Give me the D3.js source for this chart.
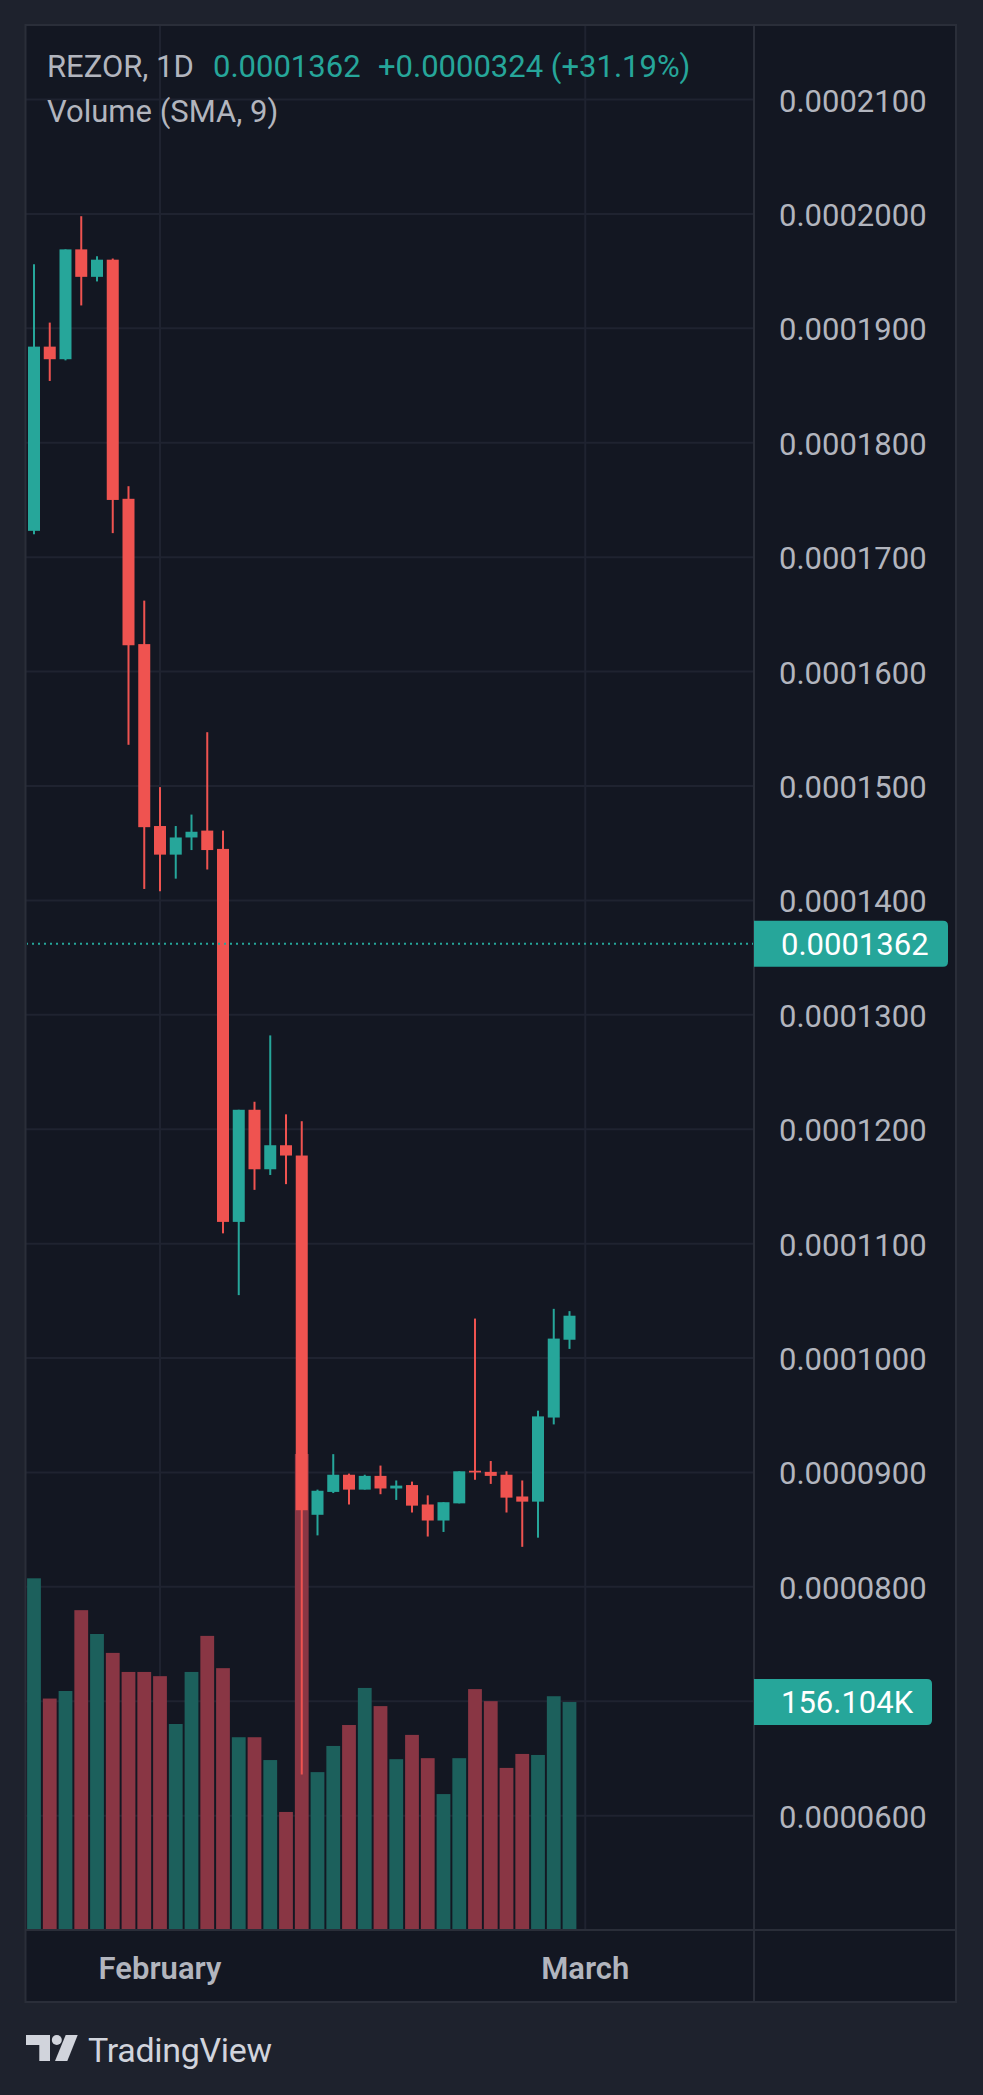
<!DOCTYPE html>
<html>
<head>
<meta charset="utf-8">
<script src="https://cdn.jsdelivr.net/npm/d3@7"></script>
<style>
  html, body { margin: 0; padding: 0; background: #1e222d; }
  svg { display: block; }
  text { font-family: Roboto, "Noto Sans", sans-serif; }
</style>
</head>
<body>
<script>
// prices are in units of 0.0000001
var open  = [1723, 1884, 1873, 1969, 1945, 1960, 1751, 1624, 1465, 1440, 1455, 1461, 1445, 1119, 1217, 1165, 1186, 1177,
             863, 883, 898, 885, 897, 886, 889, 872, 858, 873, 901.5, 900.5, 898, 879, 874.5, 948, 1016];
var high  = [1956, 1905, 1969, 1998, 1963, 1961, 1762, 1662, 1499, 1465, 1475, 1547, 1461, 1217, 1224, 1282, 1213, 1207,
             885, 916, 899, 898, 906, 893, 892, 880, 874, 901, 1034.5, 910, 901, 893, 954, 1043, 1041];
var low   = [1720, 1854, 1872, 1920, 1941, 1721, 1536, 1410, 1408, 1419, 1444, 1427, 1109, 1055, 1147, 1160, 1152, 636,
             845, 882, 872, 885, 881, 876, 865, 844, 848, 873, 893.6, 890, 865, 835, 843, 942, 1008];
var close = [1884, 1873, 1969, 1945, 1960, 1750, 1623, 1464, 1440, 1455, 1460, 1444, 1119, 1217, 1165, 1186, 1177, 867,
             884, 898, 885, 897, 886, 888.5, 871, 858, 874, 901, 900, 897, 878, 874.5, 949, 1017, 1037];
// volume in thousands
var volume = [241.2, 158.5, 163.7, 219.3, 202.9, 189.9, 176.8, 176.8, 173.9, 141.0, 176.8, 201.6, 179.4, 131.9, 131.9,
              116.2, 80.5, 326.7, 107.9, 125.9, 140.3, 165.8, 153.3, 116.8, 133.5, 117.5, 92.8, 117.5, 165.0, 156.7,
              110.8, 120.4, 119.7, 160.1, 156.104];
var priceTicks = [2100, 2000, 1900, 1800, 1700, 1600, 1500, 1400, 1300, 1200, 1100, 1000, 900, 800, 700, 600];
var monthLabels = ["February", "March"];
var monthIndex = [8, 35];
var lastPrice = 1362;
var change = 324;
var changePct = 31.19;
var symbol = "REZOR, 1D";
var studyName = "Volume (SMA, 9)";

var width = 983, height = 2095;
var padL = 26, padR = 754, padT = 25, paneBottom = 1930, frameRight = 956, frameBottom = 2002;
var up = "#26a69a", down = "#ef5350";
var volUp = "#1c605c", volDown = "#893644";
var gridColor = "#1f2330", borderColor = "#2a2e39", textColor = "#b2b5be";

var svg = d3.select("body").append("svg")
    .attr("width", width)
    .attr("height", height);

svg.append("rect").attr("width", width).attr("height", height).attr("fill", "#1e222d");
svg.append("rect")
    .attr("x", padL).attr("y", padT)
    .attr("width", frameRight - padL).attr("height", frameBottom - padT)
    .attr("fill", "#131722");

var x = d3.scaleLinear().domain([0, 35]).range([34, 585.25]);
var y = d3.scaleLinear().domain([600, 2100]).range([1815.7, 99.5]);
var yVol = d3.scaleLinear().domain([0, d3.max(volume)]).range([1929, 1454]);
var fmt = v => (v * 1e-7).toFixed(7);

// grid
var grid = svg.append("g");
grid.selectAll("line.h")
    .data(priceTicks)
    .join("line")
    .attr("class", "h")
    .attr("x1", padL).attr("x2", padR)
    .attr("y1", d => y(d)).attr("y2", d => y(d))
    .attr("stroke", gridColor).attr("stroke-width", 2);
grid.selectAll("line.v")
    .data(monthIndex)
    .join("line")
    .attr("class", "v")
    .attr("x1", d => x(d)).attr("x2", d => x(d))
    .attr("y1", padT).attr("y2", paneBottom)
    .attr("stroke", gridColor).attr("stroke-width", 2);

svg.append("clipPath").attr("id", "pane")
    .append("rect").attr("x", padL + 1).attr("y", padT + 1)
    .attr("width", padR - padL - 1).attr("height", paneBottom - padT - 2);

var pane = svg.append("g").attr("clip-path", "url(#pane)");

// volume
var idx = d3.range(open.length);
pane.append("g").selectAll("rect")
    .data(idx)
    .join("rect")
    .attr("x", i => x(i) - 6.9)
    .attr("width", 13.8)
    .attr("y", i => yVol(volume[i]))
    .attr("height", i => yVol(0) - yVol(volume[i]))
    .attr("fill", i => close[i] >= open[i] ? volUp : volDown);

// candles
var candles = pane.append("g").selectAll("g")
    .data(idx)
    .join("g")
    .attr("fill", i => close[i] >= open[i] ? up : down);
candles.append("rect")
    .attr("x", i => x(i) - 1)
    .attr("width", 2)
    .attr("y", i => y(high[i]))
    .attr("height", i => y(low[i]) - y(high[i]));
candles.append("rect")
    .attr("x", i => x(i) - 6)
    .attr("width", 12)
    .attr("y", i => y(Math.max(open[i], close[i])))
    .attr("height", i => Math.max(1.5, Math.abs(y(open[i]) - y(close[i]))));

// last price line
pane.append("line")
    .attr("x1", padL).attr("x2", padR)
    .attr("y1", y(lastPrice)).attr("y2", y(lastPrice))
    .attr("stroke", up).attr("stroke-width", 2)
    .attr("stroke-dasharray", "2,4");

// separators
svg.append("line")
    .attr("x1", padR).attr("x2", padR).attr("y1", padT).attr("y2", frameBottom)
    .attr("stroke", borderColor).attr("stroke-width", 2);
svg.append("line")
    .attr("x1", padL).attr("x2", frameRight).attr("y1", paneBottom).attr("y2", paneBottom)
    .attr("stroke", borderColor).attr("stroke-width", 2);
svg.append("rect")
    .attr("x", padL - 0.5).attr("y", padT)
    .attr("width", frameRight - padL + 0.5).attr("height", frameBottom - padT)
    .attr("fill", "none").attr("stroke", borderColor).attr("stroke-width", 2);

// price axis, labels hidden under the badges are skipped like the original does
var badgeY = [y(lastPrice), yVol(volume[volume.length - 1])];
svg.append("g").selectAll("text")
    .data(priceTicks.filter(d => badgeY.every(b => Math.abs(y(d) - b) > 40)))
    .join("text")
    .attr("x", 779)
    .attr("y", d => y(d) + 12)
    .attr("font-size", 31)
    .attr("fill", textColor)
    .text(fmt);

// time axis
svg.append("g").selectAll("text")
    .data(monthLabels)
    .join("text")
    .attr("x", (d, i) => x(monthIndex[i]))
    .attr("y", 1979)
    .attr("text-anchor", "middle")
    .attr("font-size", 31)
    .attr("font-weight", 600)
    .attr("fill", textColor)
    .text(d => d);

// badges
function badge(cy, w, label) {
    var r = 5;
    var x0 = padR, x1 = padR + w, y0 = cy - 23, y1 = cy + 23;
    svg.append("path")
        .attr("d", "M" + x0 + "," + y0 + "H" + (x1 - r) + "Q" + x1 + "," + y0 + " " + x1 + "," + (y0 + r) +
             "V" + (y1 - r) + "Q" + x1 + "," + y1 + " " + (x1 - r) + "," + y1 + "H" + x0 + "Z")
        .attr("fill", up);
    svg.append("text")
        .attr("x", 781).attr("y", cy + 11)
        .attr("font-size", 31)
        .attr("fill", "#ffffff")
        .text(label);
}
badge(badgeY[0], 194, fmt(lastPrice));
badge(badgeY[1], 178, d3.format(".3f")(volume[volume.length - 1]) + "K");

// header
var h = svg.append("text").attr("y", 77).attr("font-size", 31);
h.append("tspan").attr("x", 47).attr("fill", textColor).text(symbol);
h.append("tspan").attr("x", 213).attr("fill", up).text(fmt(lastPrice));
h.append("tspan").attr("x", 378).attr("fill", up)
    .text("+" + fmt(change) + " (+" + changePct.toFixed(2) + "%)");
svg.append("text").attr("x", 47).attr("y", 122).attr("font-size", 31)
    .attr("fill", textColor).text(studyName);

// logo
var logo = svg.append("g").attr("fill", "#d1d4dc");
logo.append("path").attr("d", "M26,2035H50V2061H39.3V2045H26Z");
logo.append("circle").attr("cx", 56.8).attr("cy", 2040).attr("r", 5);
logo.append("path").attr("d", "M65.7,2035H77.7L67.3,2061H55Z");
logo.append("text").attr("x", 88).attr("y", 2062)
    .attr("font-size", 34)
    .attr("textLength", 184)
    .text("TradingView");
</script>
</body>
</html>
